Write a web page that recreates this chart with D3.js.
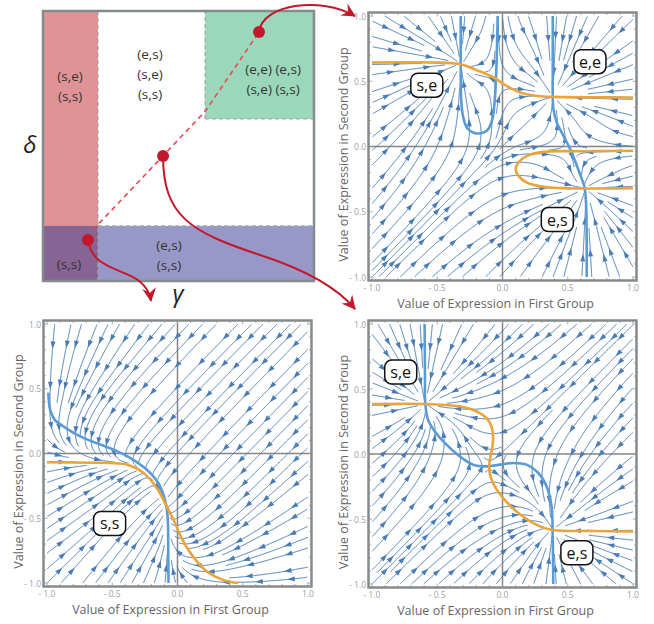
<!DOCTYPE html>
<html><head><meta charset="utf-8">
<script src="https://cdn.jsdelivr.net/npm/d3@7"></script>
<style>body{margin:0;background:#fff} svg{display:block} text{font-family:"Open Sans","Liberation Sans",sans-serif}</style>
</head><body><svg id="c" width="654" height="624"></svg>
<script>
// ---------- data ----------
const tickValues = [-1, -0.5, 0, 0.5, 1];
const tickLabels = ["- 1.0", "- 0.5", "0.0", "0.5", "1.0"];
const xTitle = "Value of Expression in First Group";
const yTitle = "Value of Expression in Second Group";

// top-right panel nullclines
const trBlueU = [[-0.32,1.0],[-0.32,0.6],[-0.316,0.35],[-0.30,0.22],[-0.27,0.14],[-0.22,0.105],[-0.173,0.10],[-0.12,0.12],[-0.08,0.20],[-0.06,0.35],[-0.047,0.6],[-0.037,1.0]];
const trBlueS = [[0.385,1.0],[0.385,0.6],[0.385,0.39],[0.39,0.286],[0.416,0.184],[0.467,0.082],[0.519,-0.02],[0.57,-0.148],[0.608,-0.25],[0.629,-0.314],[0.641,-0.455],[0.645,-0.7],[0.645,-1.0]];
const trOrangeTop = [[-1,0.644],[-0.56,0.644],[-0.33,0.632],[-0.2,0.585],[-0.07,0.53],[0.03,0.465],[0.16,0.406],[0.31,0.383],[0.385,0.38],[0.7,0.377],[1,0.375]];
const trOrangeLoop = [[1,-0.033],[0.6,-0.036],[0.314,-0.041],[0.186,-0.072],[0.122,-0.123],[0.101,-0.174],[0.122,-0.225],[0.186,-0.276],[0.314,-0.309],[0.467,-0.319],[0.634,-0.322],[1,-0.319]];
// bottom-left panel nullclines
const blBlue = [[-0.99,0.47],[-0.976,0.34],[-0.94,0.26],[-0.86,0.2],[-0.75,0.134],[-0.62,0.08],[-0.49,0.03],[-0.364,-0.033],[-0.237,-0.123],[-0.148,-0.226],[-0.097,-0.355],[-0.076,-0.483],[-0.071,-0.74],[-0.069,-1.0]];
const blOrange = [[-1,-0.067],[-0.594,-0.072],[-0.39,-0.085],[-0.262,-0.149],[-0.16,-0.265],[-0.084,-0.406],[-0.02,-0.535],[0.03,-0.65],[0.107,-0.779],[0.22,-0.907],[0.375,-0.985],[0.464,-1.0]];
// bottom-right panel nullclines
const brBlue = [[-0.597,1.0],[-0.594,0.6],[-0.592,0.393],[-0.571,0.264],[-0.52,0.175],[-0.443,0.085],[-0.328,-0.018],[-0.225,-0.082],[-0.123,-0.095],[-0.02,-0.082],[0.082,-0.069],[0.184,-0.082],[0.274,-0.146],[0.338,-0.249],[0.376,-0.403],[0.384,-0.608],[0.389,-1.0]];
const brOrange = [[-1,0.385],[-0.584,0.385],[-0.43,0.377],[-0.302,0.362],[-0.2,0.329],[-0.123,0.277],[-0.085,0.213],[-0.072,0.136],[-0.077,0.059],[-0.092,-0.018],[-0.102,-0.095],[-0.092,-0.172],[-0.059,-0.249],[0.005,-0.339],[0.108,-0.442],[0.236,-0.531],[0.376,-0.583],[0.7,-0.592],[1,-0.596]];

const trLabels = [{t:"s,e",x:-0.58,y:0.47},{t:"e,e",x:0.67,y:0.65},{t:"e,s",x:0.42,y:-0.56}];
const blLabels = [{t:"s,s",x:-0.52,y:-0.54}];
const brLabels = [{t:"s,e",x:-0.78,y:0.63},{t:"e,s",x:0.57,y:-0.76}];

// parameter diagram (gamma, delta in [0,1])
const regions = [
  {g0:0, g1:0.203, d0:0, d1:1, fill:"#e09396"},
  {g0:0.598, g1:1, d0:0.6, d1:1, fill:"#9bd8bb"},
  {g0:0, g1:1, d0:0, d1:0.204, fill:"#9898c8"},
  {g0:0, g1:0.203, d0:0, d1:0.204, fill:"#876493"}
];
const regionLabels = [
  {g:0.100, d:0.759, lines:["(s,e)","(s,s)"]},
  {g:0.395, d:0.841, lines:["(e,s)","(s,e)","(s,s)"]},
  {g:0.849, d:0.785, lines:["(e,e) (e,s)","(s,e) (s,s)"]},
  {g:0.465, d:0.133, lines:["(e,s)","(s,s)"]},
  {g:0.096, d:0.063, lines:["(s,s)"]}
];
const pathPoints = [[0.185,0.19],[0.6,0.63],[0.797,0.922]];
const dots = [[0.797,0.922],[0.443,0.463],[0.166,0.152]];

// ---------- drawing ----------
const svg = d3.select("#c");
const STREAM = "#4a7cb5", NBLUE = "#5b9bd5", ORANGE = "#e9a43a", RED = "#c3182b";

// diagram
const gx = d3.scaleLinear().domain([0,1]).range([43,314]);
const gy = d3.scaleLinear().domain([0,1]).range([281,11]);
const dg = svg.append("g");
dg.append("rect").attr("x",gx(0)).attr("y",gy(1)).attr("width",gx(1)-gx(0)).attr("height",gy(0)-gy(1)).attr("fill","#fff");
regions.forEach(r=>dg.append("rect").attr("x",gx(r.g0)).attr("y",gy(r.d1)).attr("width",gx(r.g1)-gx(r.g0)).attr("height",gy(r.d0)-gy(r.d1)).attr("fill",r.fill));
const dash = [[[0.203,0],[0.203,1]],[[0.203,0.204],[1,0.204]],[[0.598,0.6],[0.598,1]],[[0.598,0.6],[1,0.6]]];
dash.forEach(s=>dg.append("line").attr("x1",gx(s[0][0])).attr("y1",gy(s[0][1])).attr("x2",gx(s[1][0])).attr("y2",gy(s[1][1])).attr("stroke","#a8a8a8").attr("stroke-width",1.2).attr("stroke-dasharray","4,3"));
dg.append("rect").attr("x",gx(0)).attr("y",gy(1)).attr("width",gx(1)-gx(0)).attr("height",gy(0)-gy(1)).attr("fill","none").attr("stroke","#858a8c").attr("stroke-width",2.5);
regionLabels.forEach(l=>l.lines.forEach((t,i)=>dg.append("text").attr("x",gx(l.g)).attr("y",gy(l.d)+i*20).attr("text-anchor","middle").attr("dominant-baseline","central").attr("font-size",13.5).attr("fill","#333").text(t)));
dg.append("path").attr("d",d3.line().x(d=>gx(d[0])).y(d=>gy(d[1]))(pathPoints)).attr("fill","none").attr("stroke","#e8484f").attr("stroke-width",1.6).attr("stroke-dasharray","5,4");
dg.append("text").attr("x",30).attr("y",143).attr("text-anchor","middle").attr("dominant-baseline","central").attr("font-family","Liberation Serif, serif").attr("font-style","italic").attr("font-size",24).attr("fill","#222").text("δ");
dg.append("text").attr("x",178).attr("y",292).attr("text-anchor","middle").attr("dominant-baseline","central").attr("font-family","Liberation Serif, serif").attr("font-style","italic").attr("font-size",24).attr("fill","#222").text("γ");

// ---------- field + streamlines ----------
function extend(line, len){
  const n=line.length, a=line[0], b=line[1], y=line[n-1], z=line[n-2];
  let d1x=a[0]-b[0], d1y=a[1]-b[1], m1=Math.hypot(d1x,d1y);
  let d2x=y[0]-z[0], d2y=y[1]-z[1], m2=Math.hypot(d2x,d2y);
  return [[a[0]+d1x/m1*len,a[1]+d1y/m1*len], ...line, [y[0]+d2x/m2*len, y[1]+d2y/m2*len]];
}
function segDist2(x,y,x1,y1,x2,y2){
  const dx=x2-x1, dy=y2-y1; let t=((x-x1)*dx+(y-y1)*dy)/(dx*dx+dy*dy);
  t=Math.max(0,Math.min(1,t)); const px=x1+t*dx-x, py=y1+t*dy-y; return px*px+py*py;
}
function makeField(blue, orange){
  const B=blue.map(l=>extend(l,0.6)), O=orange.map(l=>extend(l,0.6));
  return (x,y)=>{
    let cr=0, ca=0, db=Infinity, dor=Infinity;
    for(const L of B) for(let i=0;i<L.length-1;i++){
      const [x1,y1]=L[i],[x2,y2]=L[i+1];
      if((y1>y)!==(y2>y)){ const xi=x1+(y-y1)/(y2-y1)*(x2-x1); if(xi>x) cr++; }
      const d=segDist2(x,y,x1,y1,x2,y2); if(d<db) db=d;
    }
    for(const L of O) for(let i=0;i<L.length-1;i++){
      const [x1,y1]=L[i],[x2,y2]=L[i+1];
      if((x1>x)!==(x2>x)){ const yi=y1+(x-x1)/(x2-x1)*(y2-y1); if(yi>y) ca++; }
      const d=segDist2(x,y,x1,y1,x2,y2); if(d<dor) dor=d;
    }
    return [(cr%2?1:-1)*Math.sqrt(db), (ca%2?1:-1)*Math.sqrt(dor)];
  };
}
function streams(field){
  const dsep=0.076, dtest=0.034, h=0.006, maxN=900, minLen=0.1;
  const cell=dsep, grid=new Map(), ck=(i,j)=>i*1000+j;
  function ins(p){ const k=ck(Math.floor((p[0]+1)/cell),Math.floor((p[1]+1)/cell)); if(!grid.has(k)) grid.set(k,[]); grid.get(k).push(p); }
  function near(x,y,d){ const i=Math.floor((x+1)/cell), j=Math.floor((y+1)/cell), d2=d*d;
    for(let a=i-1;a<=i+1;a++) for(let b=j-1;b<=j+1;b++){ const arr=grid.get(ck(a,b)); if(!arr) continue;
      for(const p of arr){ const dx=p[0]-x, dy=p[1]-y; if(dx*dx+dy*dy<d2) return true; } }
    return false; }
  function dirAt(x,y){ const f=field(x,y), m=Math.hypot(f[0],f[1]); return [f[0]/m,f[1]/m,m]; }
  function trace(x,y,s){ const pts=[]; let px=x,py=y,prev=null;
    for(let k=0;k<maxN;k++){
      const d1=dirAt(px,py); if(!(d1[2]>0.006)) break;
      const d2=dirAt(px+s*d1[0]*h/2, py+s*d1[1]*h/2); if(!(d2[2]>0.004)) break;
      const nx=px+s*d2[0]*h, ny=py+s*d2[1]*h;
      if(nx<-1||nx>1||ny<-1||ny>1) break;
      if(prev && d2[0]*prev[0]+d2[1]*prev[1]<0.5) break;
      if(near(nx,ny,dtest)) break;
      pts.push([nx,ny]); px=nx; py=ny; prev=d2;
    } return pts; }
  const lines=[];
  function tryLine(x,y){
    if(x<-1||x>1||y<-1||y>1) return null; if(near(x,y,dsep*0.98)) return null;
    const f=trace(x,y,1), b=trace(x,y,-1); const L=b.reverse().concat([[x,y]],f);
    if((L.length-1)*h<minLen) return null;
    L.forEach(p=>ins(p)); lines.push(L); return L; }
  const seeds=[]; for(let sy=-1+dsep/2; sy<1; sy+=dsep) for(let sx=-1+dsep/2; sx<1; sx+=dsep) seeds.push([sx,sy]);
  for(const s of seeds){ const L=tryLine(s[0],s[1]); if(!L) continue; const q=[L];
    while(q.length){ const cur=q.shift();
      for(let i=0;i<cur.length;i+=3){ const a=cur[Math.max(0,i-1)], b=cur[Math.min(cur.length-1,i+1)];
        let tx=b[0]-a[0], ty=b[1]-a[1]; const m=Math.hypot(tx,ty)||1; tx/=m; ty/=m; const p=cur[i];
        for(const sg of [1,-1]){ const nl=tryLine(p[0]-ty*dsep*sg, p[1]+tx*dsep*sg); if(nl) q.push(nl); } } } }
  return lines;
}

const panels = [
  {id:"tr", px:[372,633], py:[16,277], blue:[trBlueU,trBlueS], orange:[trOrangeTop,trOrangeLoop], labels:trLabels},
  {id:"bl", px:[47,308], py:[324,583], blue:[blBlue], orange:[blOrange], labels:blLabels},
  {id:"br", px:[372,633], py:[324,584], blue:[brBlue], orange:[brOrange], labels:brLabels}
];

panels.forEach(P=>{
  const sx=d3.scaleLinear().domain([-1,1]).range(P.px);
  const sy=d3.scaleLinear().domain([-1,1]).range([P.py[1],P.py[0]]);
  const g=svg.append("g");
  const pad=3.5;
  g.append("clipPath").attr("id","clip-"+P.id).append("rect").attr("x",P.px[0]-pad).attr("y",P.py[0]-pad).attr("width",P.px[1]-P.px[0]+2*pad).attr("height",P.py[1]-P.py[0]+2*pad);
  g.append("rect").attr("x",P.px[0]-pad).attr("y",P.py[0]-pad).attr("width",P.px[1]-P.px[0]+2*pad).attr("height",P.py[1]-P.py[0]+2*pad).attr("fill","#fff");
  const inner=g.append("g").attr("clip-path","url(#clip-"+P.id+")");
  inner.append("line").attr("x1",sx(0)).attr("x2",sx(0)).attr("y1",P.py[0]-pad).attr("y2",P.py[1]+pad).attr("stroke","#858585").attr("stroke-width",1.5);
  inner.append("line").attr("y1",sy(0)).attr("y2",sy(0)).attr("x1",P.px[0]-pad).attr("x2",P.px[1]+pad).attr("stroke","#858585").attr("stroke-width",1.5);
  const field=makeField(P.blue,P.orange);
  const lines=streams(field);
  const lineGen=d3.line().x(d=>sx(d[0])).y(d=>sy(d[1]));
  const sg=inner.append("g");
  lines.forEach(L=>{
    sg.append("path").attr("d",lineGen(L)).attr("fill","none").attr("stroke",STREAM).attr("stroke-width",1);
    const pts=L.map(p=>[sx(p[0]),sy(p[1])]);
    const cum=[0]; for(let i=1;i<pts.length;i++) cum.push(cum[i-1]+Math.hypot(pts[i][0]-pts[i-1][0],pts[i][1]-pts[i-1][1]));
    const Ltot=cum[cum.length-1]; const sp=36; const n=Math.max(1,Math.round(Ltot/sp));
    for(let k=0;k<n;k++){
      const target=(k+0.5)*Ltot/n; let i=1; while(i<pts.length-1 && cum[i]<target) i++;
      const a=pts[Math.max(0,i-2)], b=pts[Math.min(pts.length-1,i+1)];
      let tx=b[0]-a[0], ty=b[1]-a[1]; const m=Math.hypot(tx,ty)||1; tx/=m; ty/=m;
      const c=pts[i], len=7.5, w=2.5;
      const tip=[c[0]+tx*len*0.5, c[1]+ty*len*0.5], bx=c[0]-tx*len*0.5, by=c[1]-ty*len*0.5;
      sg.append("path").attr("d",`M${tip[0]},${tip[1]}L${bx-ty*w},${by+tx*w}L${bx+ty*w},${by-tx*w}Z`).attr("fill",STREAM);
    }
  });
  const curve=d3.line().x(d=>sx(d[0])).y(d=>sy(d[1])).curve(d3.curveCatmullRom);
  P.blue.forEach(L=>inner.append("path").attr("d",curve(L)).attr("fill","none").attr("stroke",NBLUE).attr("stroke-width",2.6));
  P.orange.forEach(L=>inner.append("path").attr("d",curve(L)).attr("fill","none").attr("stroke",ORANGE).attr("stroke-width",2.6));
  const tg=g.append("g").attr("stroke","#9a9a9a").attr("stroke-width",0.8);
  d3.range(-10,11).forEach(k=>{
    const v=k/10, major=(k%5===0), tl=major?4:2.5;
    tg.append("line").attr("x1",sx(v)).attr("x2",sx(v)).attr("y1",P.py[1]+pad).attr("y2",P.py[1]+pad-tl);
    tg.append("line").attr("x1",sx(v)).attr("x2",sx(v)).attr("y1",P.py[0]-pad).attr("y2",P.py[0]-pad+tl);
    tg.append("line").attr("y1",sy(v)).attr("y2",sy(v)).attr("x1",P.px[0]-pad).attr("x2",P.px[0]-pad+tl);
    tg.append("line").attr("y1",sy(v)).attr("y2",sy(v)).attr("x1",P.px[1]+pad).attr("x2",P.px[1]+pad-tl);
  });
  g.append("rect").attr("x",P.px[0]-pad).attr("y",P.py[0]-pad).attr("width",P.px[1]-P.px[0]+2*pad).attr("height",P.py[1]-P.py[0]+2*pad).attr("fill","none").attr("stroke","#858a8c").attr("stroke-width",2.5);
  tickValues.forEach((v,i)=>{
    g.append("text").attr("x",sx(v)).attr("y",P.py[1]+14).attr("text-anchor","middle").attr("font-size",8.5).attr("fill","#a0a0a0").text(tickLabels[i]);
    g.append("text").attr("x",P.px[0]-6).attr("y",sy(v)).attr("text-anchor","end").attr("dominant-baseline","central").attr("font-size",8.5).attr("fill","#a0a0a0").text(tickLabels[i]);
  });
  g.append("text").attr("x",(P.px[0]+P.px[1])/2-7).attr("y",P.py[1]+31).attr("text-anchor","middle").attr("font-size",12.5).attr("fill","#666").text(xTitle);
  g.append("text").attr("transform",`translate(${P.px[0]-29},${(P.py[0]+P.py[1])/2+8}) rotate(-90)`).attr("text-anchor","middle").attr("dominant-baseline","central").attr("font-size",12.5).attr("fill","#666").text(yTitle);
  P.labels.forEach(l=>{
    const cx=sx(l.x), cy=sy(l.y);
    g.append("rect").attr("x",cx-16).attr("y",cy-12).attr("width",32).attr("height",24).attr("rx",7).attr("fill","#fff").attr("stroke","#111").attr("stroke-width",1.5);
    g.append("text").attr("x",cx).attr("y",cy).attr("text-anchor","middle").attr("dominant-baseline","central").attr("font-size",16).attr("fill","#111").text(l.t);
  });
});

// red annotation arrows + dots
const defs=svg.append("defs");
defs.append("marker").attr("id","ah").attr("viewBox","-14 -8 16 16").attr("markerWidth",16).attr("markerHeight",16).attr("markerUnits","userSpaceOnUse").attr("orient","auto").attr("refX",0).attr("refY",0)
  .append("path").attr("d","M1,0 L-13,-7 L-8,0 L-13,7 Z").attr("fill",RED);
const d1=[gx(dots[0][0]),gy(dots[0][1])], d2=[gx(dots[1][0]),gy(dots[1][1])], d3p=[gx(dots[2][0]),gy(dots[2][1])];
const arrows=[
  `M${d1[0]},${d1[1]} C${d1[0]+3},${d1[1]-28} ${d1[0]+62},${d1[1]-36} ${d1[0]+96},${d1[1]-16}`,
  `M${d2[0]},${d2[1]} C${d2[0]},${d2[1]+60} ${d2[0]+27},${d2[1]+76} ${d2[0]+97},${d2[1]+99} C${d2[0]+137},${d2[1]+112} ${d2[0]+172},${d2[1]+129} ${d2[0]+192},${d2[1]+153}`,
  `M${d3p[0]},${d3p[1]} C${d3p[0]+4},${d3p[1]+28} ${d3p[0]+32},${d3p[1]+28} ${d3p[0]+50},${d3p[1]+40} C${d3p[0]+58},${d3p[1]+46} ${d3p[0]+62},${d3p[1]+54} ${d3p[0]+63},${d3p[1]+61}`
];
arrows.forEach(a=>svg.append("path").attr("d",a).attr("fill","none").attr("stroke",RED).attr("stroke-width",2).attr("marker-end","url(#ah)"));
dots.forEach(d=>svg.append("circle").attr("cx",gx(d[0])).attr("cy",gy(d[1])).attr("r",6).attr("fill",RED));
</script></body></html>
